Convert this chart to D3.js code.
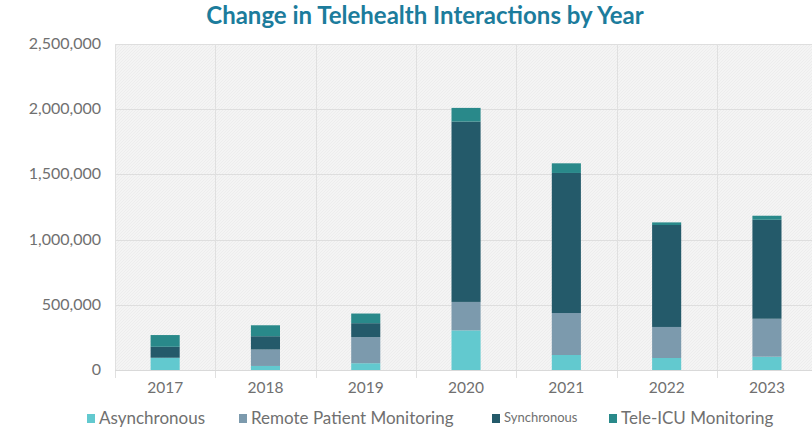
<!DOCTYPE html>
<html>
<head>
<meta charset="utf-8">
<script src="https://cdn.jsdelivr.net/npm/d3@7"></script>
<style>
  body { margin: 0; background: #fff; }
  svg { display: block; }
  text { font-family: "Lato", "Noto Sans", sans-serif; }
</style>
</head>
<body>
<svg id="chart" width="812" height="430"></svg>
<script>
// data
var years = ["2017", "2018", "2019", "2020", "2021", "2022", "2023"];
var seriesNames = ["Asynchronous", "Remote Patient Monitoring", "Synchronous", "Tele-ICU Monitoring"];
var asynchronous = [94000, 31000, 52000, 304000, 115000, 92000, 102000];
var remoteMonitoring = [0, 126000, 200000, 218000, 322000, 238000, 291000];
var synchronous = [84000, 102000, 107000, 1383000, 1074000, 782000, 759000];
var teleIcu = [90000, 84000, 74000, 105000, 74000, 20000, 31000];
var yTicks = [0, 500000, 1000000, 1500000, 2000000, 2500000];
var colors = ["#62c9cf", "#7c9aad", "#245a6a", "#29898a"];

var svg = d3.select("#chart");

var plotLeft = 115, plotTop = 44, plotBottom = 370;
var step = 100.3;
var plotRight = plotLeft + step * years.length;

var rows = years.map(function (yr, i) {
    return {
        year: yr,
        "Asynchronous": asynchronous[i],
        "Remote Patient Monitoring": remoteMonitoring[i],
        "Synchronous": synchronous[i],
        "Tele-ICU Monitoring": teleIcu[i]
    };
});

var x = d3.scaleBand()
    .domain(years)
    .range([plotLeft, plotRight])
    .paddingInner(0.71)
    .paddingOuter(0.355);

var y = d3.scaleLinear()
    .domain([0, 2500000])
    .range([plotBottom, plotTop]);

// hatched plot background
var defs = svg.append("defs");
var pat = defs.append("pattern")
    .attr("id", "hatch")
    .attr("width", 3).attr("height", 3)
    .attr("patternUnits", "userSpaceOnUse");
pat.append("rect").attr("width", 3).attr("height", 3).attr("fill", "#f4f4f4");
pat.append("path").attr("d", "M0 3 L3 0").attr("stroke", "#eaeaea").attr("stroke-width", 0.7);

svg.append("rect")
    .attr("x", plotLeft).attr("y", plotTop)
    .attr("width", plotRight - plotLeft).attr("height", plotBottom - plotTop)
    .attr("fill", "url(#hatch)");

// horizontal grid
svg.append("g").selectAll("line")
    .data(yTicks.slice(1))
    .join("line")
    .attr("x1", plotLeft).attr("x2", plotRight)
    .attr("y1", function (d) { return Math.round(y(d)) + 0.5; })
    .attr("y2", function (d) { return Math.round(y(d)) + 0.5; })
    .attr("stroke", "#dedede");

// vertical grid at category boundaries
var bounds = years.map(function (d) { return x(d) + x.bandwidth() / 2 - step / 2; });
bounds.push(plotRight);
svg.append("g").selectAll("line")
    .data(bounds)
    .join("line")
    .attr("x1", function (d) { return Math.round(d) + 0.5; })
    .attr("x2", function (d) { return Math.round(d) + 0.5; })
    .attr("y1", plotTop).attr("y2", plotBottom + 8)
    .attr("stroke", "#e0e0e0");

// baseline
svg.append("line")
    .attr("x1", plotLeft).attr("x2", plotRight)
    .attr("y1", plotBottom + 0.5).attr("y2", plotBottom + 0.5)
    .attr("stroke", "#d9d9d9");

// stacked bars
var stack = d3.stack().keys(seriesNames)(rows);

svg.append("g").selectAll("g")
    .data(stack)
    .join("g")
    .attr("fill", function (d, i) { return colors[i]; })
    .selectAll("rect")
    .data(function (d) { return d; })
    .join("rect")
    .attr("x", function (d) { return x(d.data.year); })
    .attr("width", x.bandwidth())
    .attr("y", function (d) { return y(d[1]); })
    .attr("height", function (d) { return y(d[0]) - y(d[1]); });

// y axis labels
var fmt = d3.format(",");
svg.append("g").selectAll("text")
    .data(yTicks)
    .join("text")
    .attr("x", 101)
    .attr("y", function (d) { return y(d) + 5; })
    .attr("text-anchor", "end")
    .attr("font-size", 16)
    .attr("fill", "#707070")
    .text(function (d) { return fmt(d); });

// x axis labels
svg.append("g").selectAll("text")
    .data(years)
    .join("text")
    .attr("x", function (d) { return x(d) + x.bandwidth() / 2; })
    .attr("y", 393)
    .attr("text-anchor", "middle")
    .attr("font-size", 15.5)
    .attr("fill", "#707070")
    .text(function (d) { return d; });

// title
svg.append("text")
    .attr("x", 425)
    .attr("y", 24)
    .attr("text-anchor", "middle")
    .attr("font-size", 24)
    .attr("font-weight", "bold")
    .attr("fill", "#1c7c9c")
    .text("Change in Telehealth Interactions by Year");

// legend
var legendX = [87, 239, 492, 609];
var legendSize = [17, 17, 13, 17];
var legend = svg.append("g").selectAll("g")
    .data(seriesNames)
    .join("g")
    .attr("transform", function (d, i) { return "translate(" + legendX[i] + ",420)"; });

legend.append("rect")
    .attr("x", 0).attr("y", -6)
    .attr("width", 8).attr("height", 9)
    .attr("fill", function (d, i) { return colors[i]; });

legend.append("text")
    .attr("x", 12)
    .attr("y", function (d, i) { return i == 2 ? 2 : 4; })
    .attr("font-size", function (d, i) { return legendSize[i]; })
    .attr("fill", "#707070")
    .text(function (d) { return d; });
</script>
</body>
</html>
